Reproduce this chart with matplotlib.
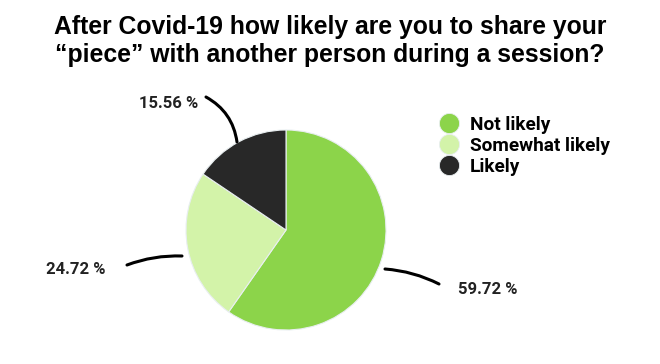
import matplotlib.pyplot as plt
from matplotlib.lines import Line2D
from matplotlib.patches import FancyArrowPatch

# ---- データ ---- #
categories = ["Not likely", "Somewhat likely", "Likely"]
shares = [59.72, 24.72, 15.56]
colors = ["#8cd44a", "#d3f3a9", "#282828"]

W, H = 660, 364

fig = plt.figure(figsize=(6.6, 3.64), dpi=100)
ax = fig.add_axes([0, 0, 1, 1])

# ---- パイ ---- #
cx, cy, r = 286, H - 230, 100
ax.pie(shares, colors=colors, startangle=90, counterclock=False,
       center=(cx, cy), radius=r, frame=True,
       wedgeprops=dict(edgecolor="#e8eef0", linewidth=0.8))
ax.set_xlim(0, W)
ax.set_ylim(0, H)
ax.set_aspect("equal")
ax.axis("off")

# ---- ラベルと引き出し線 ---- #
label_pos = [(488, 290), (76, 269), (169, 103)]
line_pts = [((385, 269), (439, 284), -0.1),
            ((127, 265), (182, 256), -0.1),
            ((206, 97), (237, 142), -0.25)]
for val, (lx, ly), (p0, p1, rad) in zip(shares, label_pos, line_pts):
    ax.text(lx, H - ly, f"{val:.2f} %", ha="center", va="center",
            fontsize=12, fontweight="bold", family="Roboto", color="#222222")
    ax.add_patch(FancyArrowPatch((p0[0], H - p0[1]), (p1[0], H - p1[1]),
                                 connectionstyle=f"arc3,rad={rad}",
                                 arrowstyle="-", lw=2.2, color="black",
                                 shrinkA=0, shrinkB=0))

# ---- タイトル ---- #
fig.text(0.5, 1 - 41 / H,
         "After Covid-19 how likely are you to share your\n"
         "\u201cpiece\u201d with another person during a session?",
         ha="center", va="center", fontsize=17.8, fontweight="bold",
         family="Liberation Sans", linespacing=1.2)

# ---- 凡例 ---- #
handles = [Line2D([], [], ls="", marker="o", markersize=14.5,
                  markerfacecolor=c, markeredgecolor="#e8eef0", markeredgewidth=0.6)
           for c in colors]
leg = ax.legend(handles, categories, loc="upper left",
                bbox_to_anchor=(439.5 / W, 1 - 116 / H), frameon=False,
                handlelength=1.0, handletextpad=0.6, labelspacing=0.15,
                borderaxespad=0, borderpad=0,
                prop=dict(family="Roboto", weight="bold", size=13.7))

plt.savefig("out.png", dpi=100)
